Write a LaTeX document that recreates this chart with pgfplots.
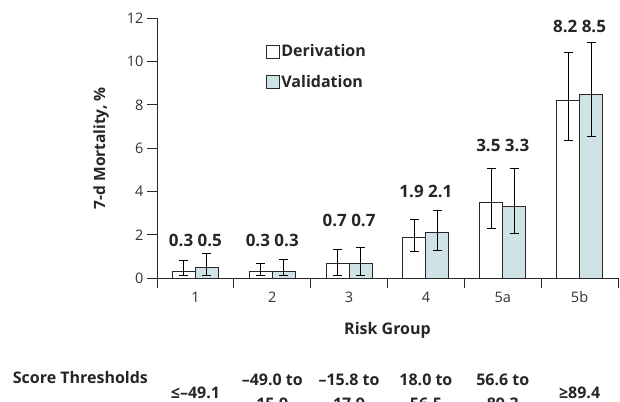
\documentclass[border=0pt]{standalone}
\usepackage{pgfplots}
\pgfplotsset{compat=1.18}
\usepackage{pgfplotstable}
\usepackage{fontspec}
\setmainfont{Open Sans}
\definecolor{valfill}{RGB}{207,227,230}
\definecolor{edge}{RGB}{40,40,40}
\pgfplotstableread{
x y ep em
0 0.3 0.53 0.15
1 0.3 0.40 0.16
2 0.7 0.65 0.56
3 1.9 0.82 0.64
4 3.5 1.59 1.21
5 8.2 2.23 1.82
}\derivation
\pgfplotstableread{
x y ep em
0 0.5 0.65 0.38
1 0.3 0.58 0.16
2 0.7 0.71 0.56
3 2.1 1.05 0.81
4 3.3 1.76 1.24
5 8.5 2.39 1.97
}\validation
\begin{document}
\begin{tikzpicture}
\useasboundingbox (0,0) rectangle (620bp,402bp);
\clip (0,0) rectangle (620bp,402bp);
\begin{axis}[
  scale only axis, width=461bp, height=260bp,
  at={(157bp,123.7bp)}, anchor=south west,
  xmin=-0.5, xmax=5.5, ymin=0, ymax=12,
  axis x line*=bottom, axis y line*=left,
  axis line style={line width=1bp, edge, -},
  ybar=0pt, bar width=23bp,
  legend image code/.code={\draw[#1, line width=0.9bp] (0bp,-6.5bp) rectangle (13bp,6.5bp);},
  xtick={0,...,5}, xticklabels={1,2,3,4,5a,5b},
  minor xtick={-0.5,0.5,...,5.5},
  ytick={0,2,...,12},
  tick align=outside,
  major tick length=10bp, minor tick length=10bp,
  tick style={line width=1bp, edge},
  major x tick style={draw=none},
  /pgf/number format/assume math mode=true,
  tick label style={font=\fontsize{14.5bp}{17bp}\selectfont, text=black!80},
  clip=false,
  xlabel={Risk Group},
  ylabel={7-d Mortality, \%},
  every axis x label/.style={at={(axis description cs:0.5,0)}, anchor=center, yshift=-52bp, font=\bfseries\fontsize{16bp}{19bp}\selectfont, text=black!85},
  every axis y label/.style={at={(axis description cs:-0.1215,0.5)}, anchor=center, rotate=90, font=\bfseries\fontsize{15.5bp}{19bp}\selectfont, text=black!85},
  legend style={at={(rel axis cs:0.236,0.905)}, anchor=north west, draw=none, fill=none, inner sep=0pt, row sep=13.5bp, font=\bfseries\fontsize{16bp}{19bp}\selectfont, text=black!85, nodes={inner sep=1.5bp}},
  legend cell align=left,
  error bars/error bar style={line width=1bp, black},
  error bars/error mark options={rotate=90, mark size=4.5bp, line width=1bp, black},
]
\addplot[fill=white, draw=edge, line width=1.1bp,
  error bars/.cd, y dir=both, y explicit]
  table[x=x, y=y, y error plus=ep, y error minus=em]{\derivation};
\addlegendentry{Derivation}
\addplot[fill=valfill, draw=edge, line width=1.1bp,
  error bars/.cd, y dir=both, y explicit]
  table[x=x, y=y, y error plus=ep, y error minus=em]{\validation};
\addlegendentry{Validation}
\begin{scope}[every node/.style={font=\bfseries\fontsize{17bp}{20bp}\selectfont, text=black!85, anchor=center}]
\node at (axis cs:0,1.77) {0.3 0.5};
\node at (axis cs:1,1.77) {0.3 0.3};
\node at (axis cs:2,2.69) {0.7 0.7};
\node at (axis cs:3,4.0) {1.9 2.1};
\node at (axis cs:4,6.12) {3.5 3.3};
\node at (axis cs:5,11.61) {8.2 8.5};
\end{scope}
\begin{scope}[every node/.style={font=\bfseries\fontsize{16bp}{24bp}\selectfont, text=black!85, anchor=center, align=center}]
\node[anchor=west, inner sep=0pt] at (axis cs:-2.378,-4.58) {Score Thresholds};
\node at (axis cs:0,-5.3) {≤–49.1};
\node at (axis cs:1,-5.25) {–49.0 to\\15.9};
\node at (axis cs:2,-5.25) {–15.8 to\\17.9};
\node at (axis cs:3,-5.25) {18.0 to\\56.5};
\node at (axis cs:4,-5.25) {56.6 to\\89.3};
\node at (axis cs:5,-5.3) {≥89.4};
\end{scope}
\end{axis}
\end{tikzpicture}
\end{document}
